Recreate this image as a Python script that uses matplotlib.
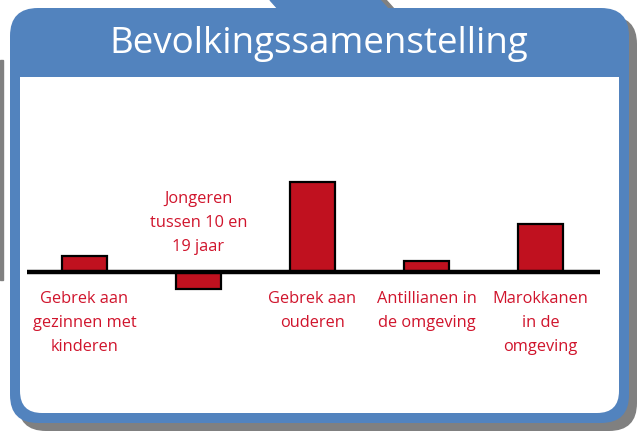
#!/usr/bin/env python3
import matplotlib
matplotlib.use("Agg")
import matplotlib.pyplot as plt
from matplotlib.patches import FancyBboxPatch, Rectangle, Polygon

# chart data
categories = [
    "Gebrek aan\ngezinnen met\nkinderen",
    "Jongeren\ntussen 10 en\n19 jaar",
    "Gebrek aan\nouderen",
    "Antillianen in\nde omgeving",
    "Marokkanen\nin de\nomgeving",
]
values = [16, -17, 90, 11, 48]
title = "Bevolkingssamenstelling"

BLUE = "#5283be"
RED = "#c0111f"
LABEL_RED = "#d0142c"
GRAY = "#808080"

W, H = 640, 432
fig = plt.figure(figsize=(W / 100, H / 100), dpi=100)
fig.patch.set_facecolor("white")

# frame drawn in pixel coordinates
bg = fig.add_axes([0, 0, 1, 1])
bg.set_xlim(0, W)
bg.set_ylim(H, 0)
bg.axis("off")

# tab at the top with its shadow
bg.add_patch(Polygon([(380, 0), (389, 10), (395, 10), (386, 0)], closed=True, color=GRAY))
bg.add_patch(Polygon([(270, 0), (279, 10), (389, 10), (380, 0)], closed=True, color=BLUE))
bg.add_patch(Rectangle((0, 60), 3, 220, color=GRAY))

# shadow, blue frame and white panel
bg.add_patch(FancyBboxPatch((18, 16), 619, 415, boxstyle="round,pad=0,rounding_size=28",
                            color=GRAY, lw=0))
bg.add_patch(FancyBboxPatch((10, 8), 619, 415, boxstyle="round,pad=0,rounding_size=28",
                            color=BLUE, lw=0))
bg.add_patch(FancyBboxPatch((20, 77), 599, 336, boxstyle="round,pad=0,rounding_size=22",
                            color="white", lw=0))
bg.add_patch(Rectangle((20, 77), 599, 40, color="white", lw=0))

bg.text(319, 44, title, color="white", fontsize=26.5, family="Open Sans",
        ha="center", va="center")

# bar axes: 1 data unit = 1 pixel vertically, baseline at y=272 px
ax = fig.add_axes([27 / W, (H - 300) / H, (600 - 27) / W, 150 / H])
ax.set_xlim(-0.504, 4.522)
ax.set_ylim(-28, 122)
ax.axis("off")

x = range(len(values))
ax.bar(x, values, width=0.395, color=RED, edgecolor="black", linewidth=1.6, zorder=2)
ax.axhline(0, color="black", linewidth=3.2, solid_capstyle="round", zorder=3)

for i, (lab, v) in enumerate(zip(categories, values)):
    if v < 0:
        ax.text(i, 17, lab, color=LABEL_RED, fontsize=11.8, family="Open Sans",
                ha="center", va="bottom", linespacing=1.65, clip_on=False)
    else:
        ax.text(i, -19, lab, color=LABEL_RED, fontsize=11.8, family="Open Sans",
                ha="center", va="top", linespacing=1.65, clip_on=False)

fig.savefig("out.png", dpi=100)
